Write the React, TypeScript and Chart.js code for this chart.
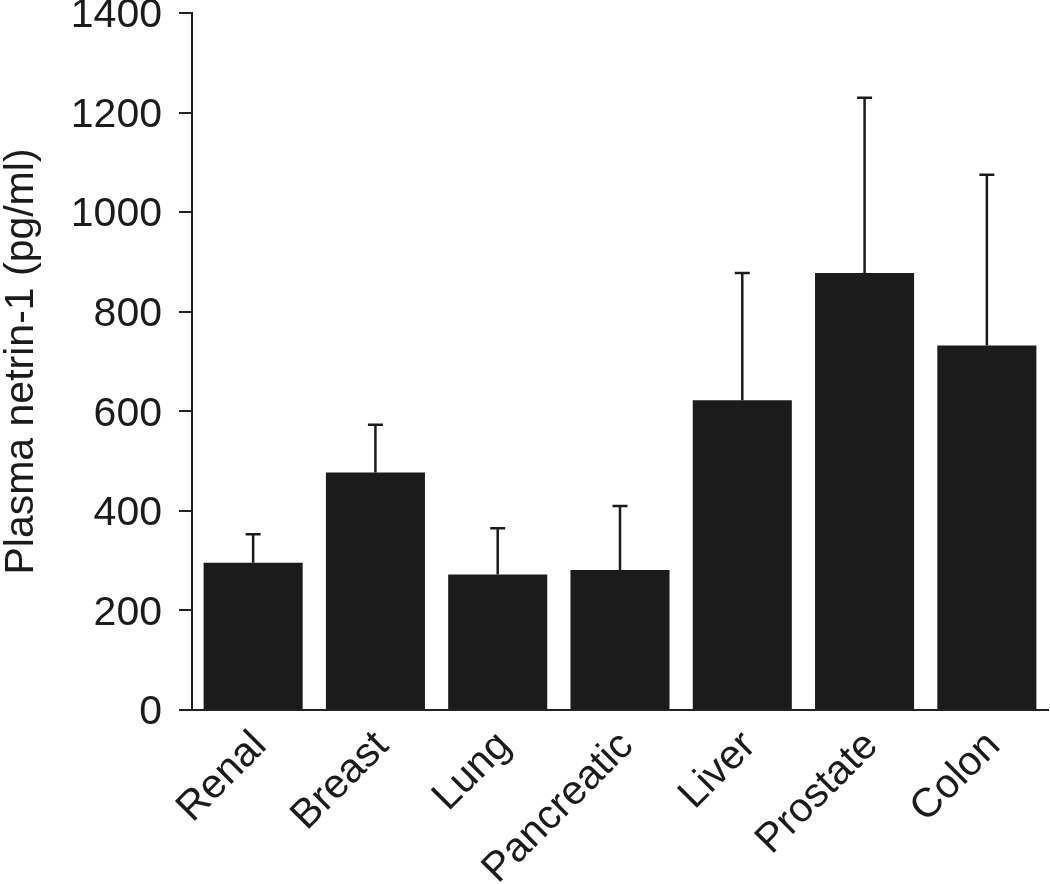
import React, { useEffect, useRef } from "react";
import { Chart, registerables } from "chart.js";

Chart.register(...registerables);

const categories = ["Renal", "Breast", "Lung", "Pancreatic", "Liver", "Prostate", "Colon"];
const means = [296, 477, 272, 281, 622, 878, 732];
const errorsUp = [57, 96, 93, 129, 256, 352, 343];
const yTicks = [0, 200, 400, 600, 800, 1000, 1200, 1400];
const yTitle = "Plasma netrin-1 (pg/ml)";

const FONT = "'Liberation Sans', Arial, Helvetica, sans-serif";
const INK = "#1b1b1b";

const errorBarPlugin = {
  id: "errorBars",
  afterDatasetsDraw(chart: any) {
    const { ctx, scales } = chart;
    const meta = chart.getDatasetMeta(0);
    const y = scales.y;
    ctx.save();
    ctx.strokeStyle = INK;
    ctx.lineWidth = 2.5;
    meta.data.forEach((bar: any, i: number) => {
      const x = bar.x;
      const yTop = y.getPixelForValue(means[i]);
      const yErr = y.getPixelForValue(means[i] + errorsUp[i]);
      ctx.beginPath();
      ctx.moveTo(x, yTop);
      ctx.lineTo(x, yErr);
      ctx.moveTo(x - 7.5, yErr);
      ctx.lineTo(x + 7.5, yErr);
      ctx.stroke();
    });
    ctx.restore();
  },
};

export default function App() {
  const ref = useRef<HTMLCanvasElement>(null);
  useEffect(() => {
    if (!ref.current) return;
    const chart = new Chart(ref.current, {
      type: "bar",
      data: {
        labels: categories,
        datasets: [
          {
            data: means,
            backgroundColor: INK,
            borderWidth: 0,
            barPercentage: 0.81,
            categoryPercentage: 1,
          },
        ],
      },
      options: {
        responsive: false,
        animation: false,
        layout: { padding: { top: 13, right: 2, left: 0, bottom: 0 } },
        plugins: { legend: { display: false }, tooltip: { enabled: false } },
        scales: {
          x: {
            grid: { display: true, drawOnChartArea: false, drawTicks: false },
            border: { display: true, color: "#222", width: 2 },
            ticks: {
              color: INK,
              font: { family: FONT, size: 41 },
              minRotation: 45,
              maxRotation: 45,
              padding: 12,
              labelOffset: 7,
            },
            afterFit: (s: any) => {
              s.height = 174;
              s.paddingLeft = 0;
              s.paddingRight = 0;
            },
          },
          y: {
            min: 0,
            max: 1400,
            afterBuildTicks: (s: any) => {
              s.ticks = yTicks.map((v) => ({ value: v }));
            },
            grid: {
              display: true,
              drawOnChartArea: false,
              drawTicks: true,
              tickLength: 13,
              color: "#222",
              lineWidth: 2,
            },
            border: { display: true, color: "#222", width: 2 },
            ticks: {
              color: INK,
              font: { family: FONT, size: 41 },
              padding: 17,
              labelOffset: 3,
              callback: (v: any) => String(v),
            },
            title: {
              display: true,
              text: yTitle,
              color: INK,
              font: { family: FONT, size: 41, lineHeight: 1.05 },
              padding: { top: 0, bottom: 0 },
            },
            afterFit: (s: any) => {
              s.width = 192;
              s.paddingTop = 0;
              s.paddingBottom = 0;
            },
          },
        },
      },
      plugins: [errorBarPlugin],
    });
    return () => chart.destroy();
  }, []);
  return (
    <div style={{ position: "absolute", left: 0, top: 0, width: 1050, height: 884, background: "#fff" }}>
      <canvas ref={ref} width={1050} height={884} style={{ display: "block" }} />
    </div>
  );
}
